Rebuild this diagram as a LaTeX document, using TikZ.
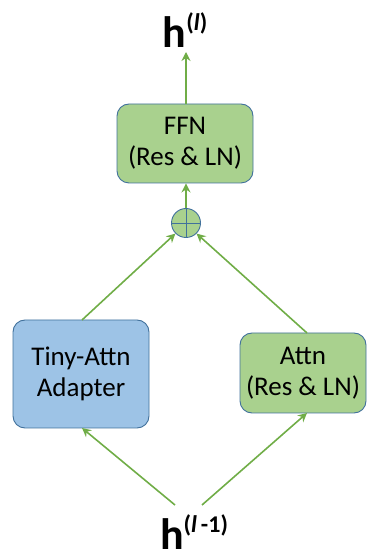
\documentclass[tikz,border=0pt]{standalone}
\usepackage{fontspec}
\setmainfont{Carlito}
\usetikzlibrary{arrows.meta}
\definecolor{boxgreen}{HTML}{A9D18E}
\definecolor{boxblue}{HTML}{9DC3E6}
\definecolor{boxedge}{HTML}{41719C}
\definecolor{arrowgreen}{HTML}{70AD47}
\tikzset{
  blockbox/.style={draw=boxedge, line width=0.9pt, rounded corners=12pt, align=center,
    font=\fontsize{27}{31}\selectfont, inner sep=0pt},
  greenbox/.style={blockbox, fill=boxgreen},
  bluebox/.style={blockbox, fill=boxblue},
  flow/.style={draw=arrowgreen, line width=1.6pt, -{Stealth[length=9pt,width=9pt,inset=3pt]}},
  sumnode/.style={circle, draw=boxedge, fill=boxgreen, line width=0.9pt, minimum size=29pt, inner sep=0pt},
  label/.style={inner sep=0pt}
}
\begin{document}
\begin{tikzpicture}[x=1pt,y=1pt]
\useasboundingbox (0,0) rectangle (367,560);
\node[greenbox, minimum width=136pt, minimum height=79pt] (ffn) at (185,416.5) {FFN\\(Res \& LN)};
\node[sumnode] (sum) at (186,337) {};
\draw[boxedge, line width=0.9pt] (sum.north) -- (sum.south) (sum.west) -- (sum.east);
\node[bluebox, minimum width=136pt, minimum height=108pt] (tiny) at (81,186) {Tiny-Attn\\Adapter};
\node[greenbox, minimum width=126pt, minimum height=80pt] (attn) at (303,187) {Attn\\(Res \& LN)};
\node[label, anchor=base] (hl) at (185,512) {{\fontsize{44}{44}\bfseries h}\raisebox{17pt}{\fontsize{24}{24}\bfseries(\textit{l})}};
\node[label, anchor=base] (hlm) at (194,10) {{\fontsize{44}{44}\bfseries h}\raisebox{17pt}{\fontsize{24}{24}\bfseries(\textit{l}\,-1)}};
\coordinate (top) at (186,508);
\coordinate (bl) at (175,55);
\coordinate (br) at (202,55);
\draw[flow] (ffn.north -| top) -- (top);
\draw[flow] (sum.north) -- (ffn.south -| sum.north);
\draw[flow] (82,240) -- (sum.225);
\draw[flow] (307,227) -- (sum.315);
\draw[flow] (bl) -- (82,132);
\draw[flow] (br) -- (307,147);
\end{tikzpicture}
\end{document}
